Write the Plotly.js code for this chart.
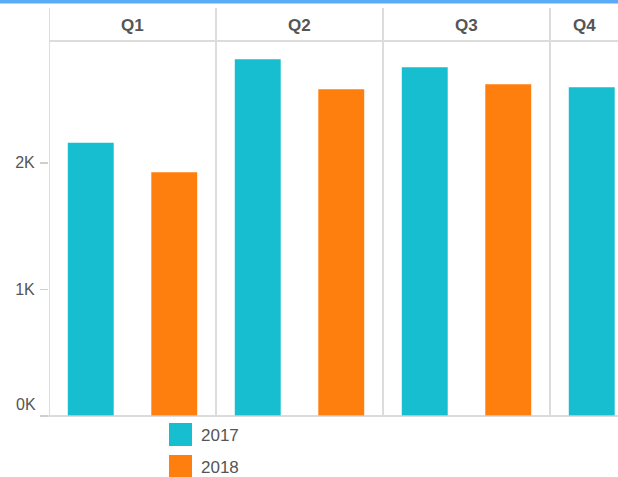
<!DOCTYPE html>
<html><head><meta charset="utf-8">
<script src="https://cdn.plot.ly/plotly-3.0.1.min.js"></script>
<style>html,body{margin:0;padding:0;background:#fff;}#chart{width:618px;height:477px;}</style>
</head><body><div id="chart"></div>
<script>
const quarters = ['Q1', 'Q2', 'Q3', 'Q4'];
const years = ['2017', '2018'];
const sales2017 = [2158, 2818, 2755, 2597];
const sales2018 = [1926, 2581, 2620, 2480];
const yTickVals = [0, 1000, 2000];
const yTickText = ['0K', '1K', '2K'];
const colors = ['#17becf', '#ff7f0e'];

const W = 618, H = 477, L = 49, R = 0, T = 41, B = 61;
const pw = W - L - R, ph = H - T - B;
const colW = 167;
const px = x => (x - L) / pw;
const py = y => (H - B - y) / ph;

const traces = [sales2017, sales2018].map((vals, i) => ({
  type: 'bar', x: quarters, y: vals, name: years[i],
  marker: {color: colors[i]}, hoverinfo: 'x+y+name', showlegend: false
}));

const grey = '#dcdcdc';
const font = 'Liberation Sans, Arial';
const shapes = [
  {type:'rect', xref:'paper', yref:'paper', x0:px(0), x1:px(W), y0:py(0), y1:py(3.5), fillcolor:'#5aaaf8', line:{width:0}, layer:'above'},
  {type:'line', xref:'paper', yref:'paper', x0:0, x1:1, y0:py(41), y1:py(41), line:{color:grey, width:2}},
  {type:'line', xref:'paper', yref:'paper', x0:px(41), x1:1, y0:0, y1:0, line:{color:'#cfcfcf', width:1.5}}
];
for (let k = 0; k < quarters.length; k++) {
  shapes.push({type:'line', xref:'x', yref:'paper', x0:k-0.5, x1:k-0.5, y0:0, y1:py(8), line:{color:grey, width:2}});
}
// header labels centred in the visible part of each column
const annotations = quarters.map((q, k) => {
  const left = L + k * colW, right = Math.min(L + (k + 1) * colW, W);
  return {xref:'paper', yref:'paper', x:px((left + right) / 2), y:py(25), text:'<b>'+q+'</b>', showarrow:false,
    xanchor:'center', yanchor:'middle', font:{family:font, size:17, color:'#555'}};
});
// the 0K label sits just above the baseline
annotations.push({xref:'paper', yref:'y', x:px(38), y:yTickVals[0], yshift:12, text:yTickText[0], showarrow:false,
  xanchor:'right', yanchor:'middle', font:{family:font, size:16, color:'#555'}});
const legTops = [423, 455];
years.forEach((yr, i) => {
  shapes.push({type:'rect', xref:'paper', yref:'paper', x0:px(169), x1:px(192), y0:py(legTops[i]), y1:py(legTops[i]+23), fillcolor:colors[i], line:{width:0}});
  annotations.push({xref:'paper', yref:'paper', x:px(199), y:py(legTops[i]+12), text:yr, showarrow:false,
    xanchor:'left', yanchor:'middle', font:{family:font, size:17, color:'#555'}});
});

const layout = {
  width: W, height: H,
  margin: {l:L, r:R, t:T, b:B, pad:0},
  paper_bgcolor:'#fff', plot_bgcolor:'#fff',
  barmode:'group', bargap:0, bargroupgap:0.45,
  showlegend:false,
  xaxis: {type:'category', range:[-0.5, -0.5 + pw/colW], showticklabels:false, showgrid:false, zeroline:false, showline:false, ticks:'', fixedrange:true},
  yaxis: {range:[0, ph/126.6*1000], tickvals:yTickVals, ticktext:yTickText.map((t, i) => i === 0 ? '' : t), showgrid:false, zeroline:false, showline:false,
    ticks:'outside', ticklen:8, tickcolor:'#cfcfcf', tickwidth:1.5, ticklabelstandoff:2,
    tickfont:{family:font, size:16, color:'#555'}, fixedrange:true},
  shapes: shapes, annotations: annotations
};
Plotly.newPlot('chart', traces, layout, {displayModeBar:false, staticPlot:true});
</script></body></html>
